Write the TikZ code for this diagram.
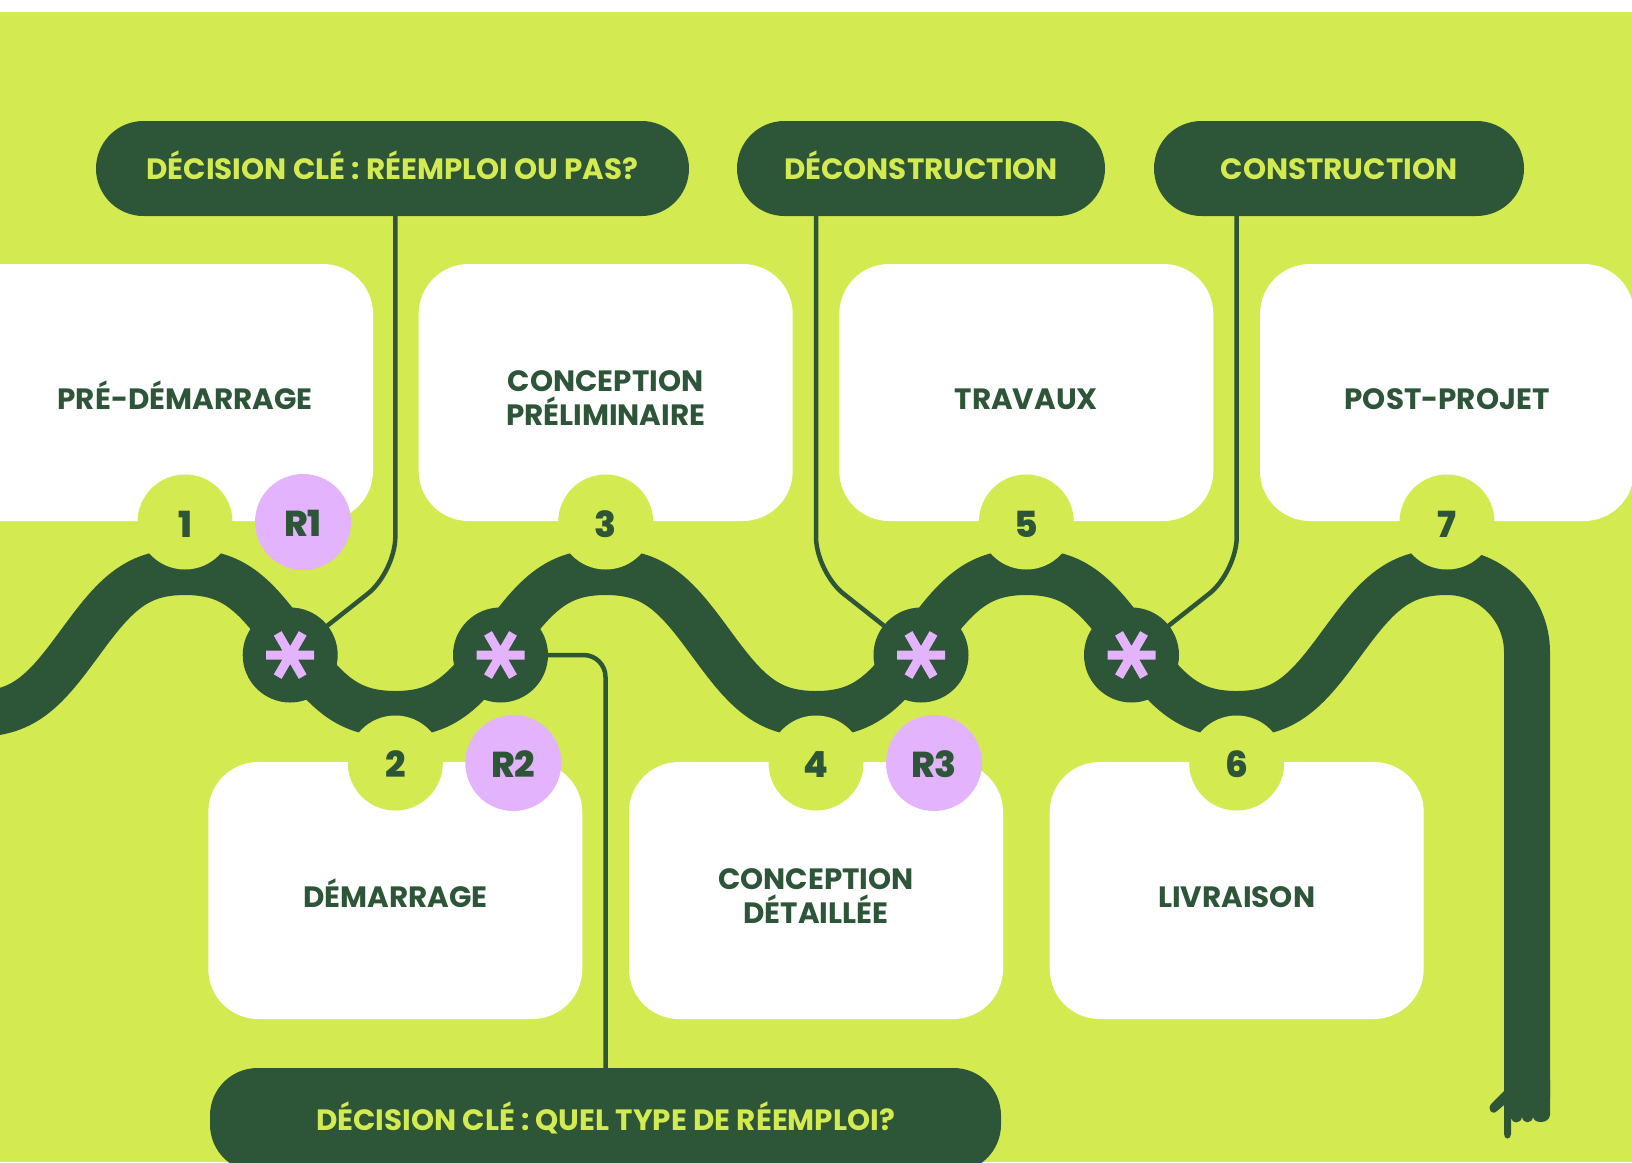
\documentclass[tikz,border=0pt]{standalone}
\usepackage{fontspec}
\setmainfont{Poppins}
\newfontfamily\heavyfont{Poppins}[UprightFont=* ExtraBold]
\usetikzlibrary{calc}
\definecolor{lime}{RGB}{212,234,81}
\definecolor{forest}{RGB}{45,85,55}
\definecolor{lilac}{RGB}{227,180,253}
\newcommand\pillfont{\bfseries\fontsize{29.4}{34}\selectfont}
\newcommand\cardfont{\bfseries\fontsize{29.4}{34.5}\selectfont}
\newcommand\numfont{\heavyfont\fontsize{36}{40}\selectfont}

\begin{document}
\begin{tikzpicture}[x=1pt,y=-1pt,
  pill/.style={fill=forest, rounded corners=47.5, minimum height=95, inner sep=0,
    text=lime, font=\pillfont, text height=21, text depth=0},
  card/.style={fill=white, rounded corners=50, minimum width=374, minimum height=257, inner sep=0},
  cardtext/.style={text=forest, font=\cardfont, align=center, inner sep=0},
  oneline/.style={text height=21, text depth=0},
  conn/.style={draw=forest, line width=4.5},
  snakeline/.style={draw=forest, line width=46, line join=round},
  stepdot/.style={circle, fill=lime, minimum size=95, inner sep=0},
  rdot/.style={circle, fill=lilac, minimum size=96, inner sep=0},
  steptext/.style={text=forest, font=\numfont, text height=25, text depth=0, inner sep=0},
  astdot/.style={circle, fill=forest, minimum size=95, inner sep=0},
  astmark/.style={draw=lilac, line width=9},
  spark/.pic={\draw[astmark] (-24,0) -- (24,0) (-12.5,-21.6) -- (12.5,21.6) (12.5,-21.6) -- (-12.5,21.6);}
]
\useasboundingbox (0,0) rectangle (1632,1162);
\clip (0,0) rectangle (1632,1162);

% background
\fill[white] (0,0) rectangle (1632,12);
\fill[lime] (0,12) rectangle (1632,1162);

% positions of the steps along the path
\coordinate (c1) at (185,522);
\coordinate (c2) at (395.3,763);
\coordinate (c3) at (605.7,522);
\coordinate (c4) at (816,763);
\coordinate (c5) at (1026.3,522);
\coordinate (c6) at (1236.7,763);
\coordinate (c7) at (1447,522);
\coordinate (a1) at (290.2,655);
\coordinate (a2) at (500.5,655);
\coordinate (a3) at (921,655);
\coordinate (a4) at (1131.5,655);
\coordinate (k1) at (395.3,572);
\coordinate (k3) at (816,572);
\coordinate (k4) at (1236.7,572);

% phase cards
\node[card, minimum width=433] (b1) at (156.5,392.5) {};
\node[card] (b3) at (605.7,392.5) {};
\node[card] (b5) at (1026.3,392.5) {};
\node[card] (b7) at (1447,392.5) {};
\node[card] (b2) at (395.3,890.5) {};
\node[card] (b4) at (816,890.5) {};
\node[card] (b6) at (1236.7,890.5) {};

\node[cardtext, oneline] (t1) at (185,399) {PRÉ-DÉMARRAGE};
\node[cardtext] (t3) at (605.7,398) {CONCEPTION\\PRÉLIMINAIRE};
\node[cardtext, oneline] (t5) at (1026.3,399) {TRAVAUX};
\node[cardtext, oneline] (t7) at (1447,399) {POST-PROJET};
\node[cardtext, oneline] (t2) at (395.3,896.5) {DÉMARRAGE};
\node[cardtext] (t4) at (816,896) {CONCEPTION\\DÉTAILLÉE};
\node[cardtext, oneline] (t6) at (1236.7,896.5) {LIVRAISON};

% decision and milestone labels
\node[pill, minimum width=593] (p1) at (392.5,168.5) {DÉCISION CLÉ : RÉEMPLOI OU PAS?};
\node[pill, minimum width=368] (p2) at (921,168.5) {DÉCONSTRUCTION};
\node[pill, minimum width=370] (p3) at (1339,168.5) {CONSTRUCTION};
\node[pill, minimum width=791, minimum height=104] (pb) at (605.5,1120) {DÉCISION CLÉ : QUEL TYPE DE RÉEMPLOI?};

% connectors
\draw[conn, rounded corners=35] (p1.south -| k1) -- (k1) -- (a1);
\draw[conn, rounded corners=35] (p2.south -| k3) -- (k3) -- (a3);
\draw[conn, rounded corners=35] (p3.south -| k4) -- (k4) -- (a4);
\draw[conn, rounded corners=22] (a2) -- (a2 -| pb.north) -- (pb.north);

% winding path: flattened crests, steeper flanks
\draw[snakeline] plot[domain=-40:1447, samples=300, smooth]
  (\x,{643-71*(1.07*cos((\x-185)*0.855784)-0.07*cos(3*(\x-185)*0.855784))})
  .. controls (1491,572) and (1527,608) .. (1527,652) -- (1527,1097);

% pointing hand at the end of the path
\fill[forest] (1504,1080) -- (1504,1091) -- (1492,1103)
  .. controls (1486,1109) and (1492,1116) .. (1497,1111)
  -- (1504,1105) -- (1504,1134)
  .. controls (1504,1140) and (1511,1140) .. (1511,1134)
  -- (1511,1118)
  .. controls (1512,1124) and (1521,1124) .. (1522,1117)
  .. controls (1523,1124) and (1532,1124) .. (1533,1117)
  .. controls (1534,1124) and (1549,1124) .. (1550,1115)
  -- (1550,1080) -- cycle;

% key decision markers
\node[astdot] (s1) at (a1) {};
\node[astdot] (s2) at (a2) {};
\node[astdot] (s3) at (a3) {};
\node[astdot] (s4) at (a4) {};
\pic at (s1.center) {spark};
\pic at (s2.center) {spark};
\pic at (s3.center) {spark};
\pic at (s4.center) {spark};

% step numbers
\node[stepdot] (n1) at (c1) {};
\node[stepdot] (n2) at (c2) {};
\node[stepdot] (n3) at (c3) {};
\node[stepdot] (n4) at (c4) {};
\node[stepdot] (n5) at (c5) {};
\node[stepdot] (n6) at (c6) {};
\node[stepdot] (n7) at (c7) {};
\node[steptext] at ([yshift=-3]n1.center) {1};
\node[steptext] at ([yshift=-1.5]n2.center) {2};
\node[steptext] at ([yshift=-3]n3.center) {3};
\node[steptext] at ([yshift=-1.5]n4.center) {4};
\node[steptext] at ([yshift=-3]n5.center) {5};
\node[steptext] at ([yshift=-1.5]n6.center) {6};
\node[steptext] at ([yshift=-3]n7.center) {7};

% reuse markers
\node[rdot] (r1) at (303,522) {};
\node[rdot] (r2) at (513.3,763) {};
\node[rdot] (r3) at (934,763) {};
\node[steptext] at ([yshift=-2]r1.center) {R1};
\node[steptext] at ([yshift=-1.5]r2.center) {R2};
\node[steptext] at ([yshift=-1.5]r3.center) {R3};
\end{tikzpicture}
\end{document}
